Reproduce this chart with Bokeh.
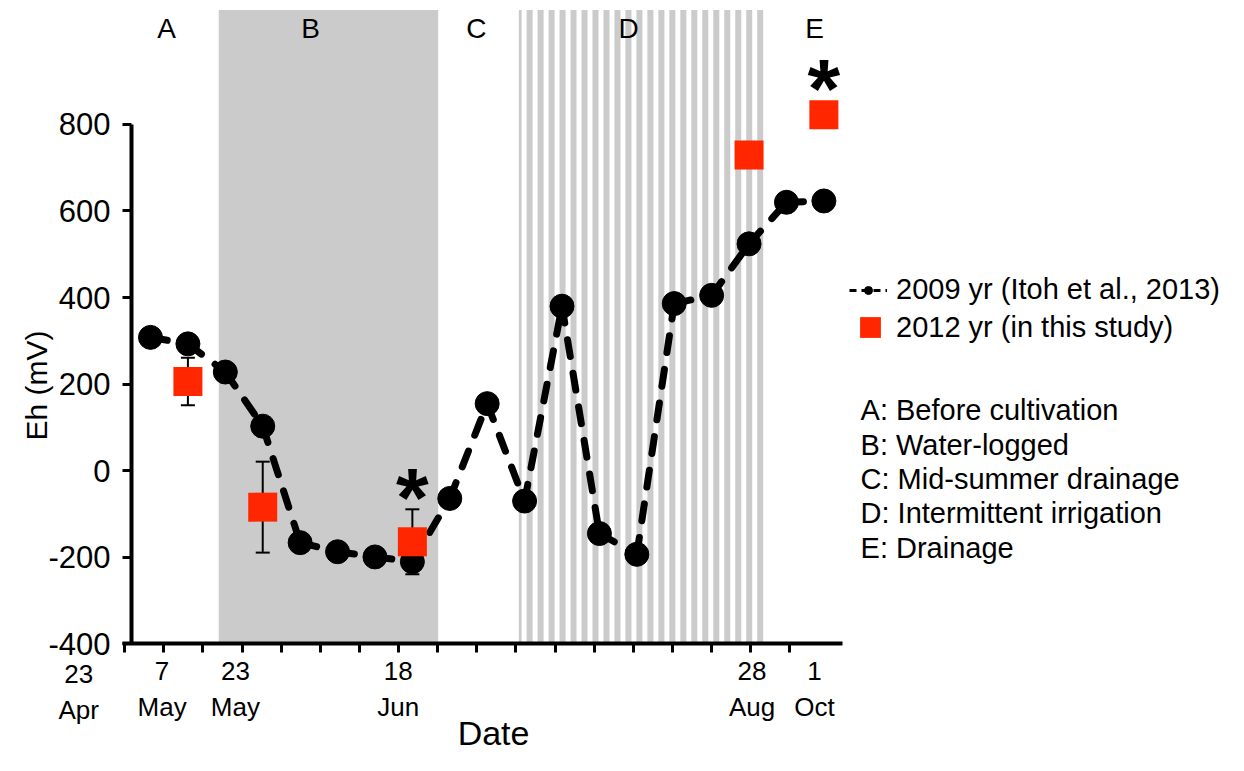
import numpy as np
from bokeh.plotting import figure
from bokeh.models import (LinearAxis, FixedTicker, BoxAnnotation, Label, Legend,
                          LegendItem, Range1d)
from bokeh.core.properties import value
from bokeh.embed import file_html
from bokeh.resources import INLINE

# ---------------- data ----------------
# 2009 series (Itoh et al., 2013): sampling number and Eh (mV)
idx_2009 = list(range(1, 20))
eh_2009 = [308, 293, 228, 103, -166, -187, -199, -210, -64, 155,
           -70, 380, -145, -193, 386, 405, 524, 620, 623]

# 2012 series (this study): sampling number, Eh (mV), error (mV)
idx_2012 = [2, 4, 8, 17, 19]
eh_2012 = [206, -84, -164, 729, 822]
err_2012 = [55, 105, 75, 0, 0]

# significance marks (sampling numbers)
star_idx = [8, 19]

# date labels on the x axis
date_pos = [1.31, 3.27, 7.62, 17.08, 18.75]
date_labels = ["7\nMay", "23\nMay", "18\nJun", "28\nAug", "1\nOct"]
first_date_pos = -0.92
first_date_label = "23\nApr"

y_ticks = [-400, -200, 0, 200, 400, 600, 800]
y_tick_labels = ["-400", "-200", "0", "200", "400", "600", "800"]

# cultivation periods
period_letters = ["A", "B", "C", "D", "E"]
period_letter_x = [1.43, 5.28, 9.71, 13.78, 18.75]
period_desc = ["A: Before cultivation", "B: Water-logged", "C: Mid-summer drainage",
               "D: Intermittent irrigation", "E: Drainage"]
waterlogged = (2.825, 8.690)
intermittent = (10.845, 17.378)

# ---------------- styling ----------------
FONT = "Liberation Sans"
GRAY = "#cbcbcb"
RED = "#ff2600"

W, H = 1228, 755
X0, X1 = -3.0096, 29.816
Y0, Y1 = -657.5, 1085.9
SHADE_TOP = 1064

p = figure(width=W, height=H, x_range=Range1d(X0, X1), y_range=Range1d(Y0, Y1),
           output_backend="svg", toolbar_location=None,
           x_axis_location=None, y_axis_location=None,
           min_border_left=0, min_border_right=0, min_border_top=0, min_border_bottom=0)
p.outline_line_color = None
p.grid.visible = False
p.background_fill_color = "white"

# x axis: tick marks as minor ticks, date labels as major ticks
tick_marks = list(np.linspace(0.31, 18.09, 18))
xaxis = LinearAxis(fixed_location=-400, bounds=(0.2515, 19.49),
                   ticker=FixedTicker(ticks=date_pos, minor_ticks=tick_marks))
xaxis.major_label_overrides = dict(zip(date_pos, date_labels))
xaxis.axis_line_width = 4
xaxis.axis_line_color = "black"
xaxis.major_tick_out = 0
xaxis.major_tick_in = 0
xaxis.minor_tick_out = 9
xaxis.minor_tick_in = 0
xaxis.minor_tick_line_width = 3
xaxis.minor_tick_line_color = "black"
xaxis.major_label_text_font = FONT
xaxis.major_label_text_font_size = "26px"
xaxis.major_label_text_color = "black"
xaxis.major_label_standoff = 3
p.add_layout(xaxis, "below")

# y axis
yaxis = LinearAxis(fixed_location=0.492, bounds=(-400, 800), ticker=FixedTicker(ticks=y_ticks))
yaxis.major_label_overrides = dict(zip(y_ticks, y_tick_labels))
yaxis.axis_line_width = 4
yaxis.major_tick_out = 9
yaxis.major_tick_in = 0
yaxis.major_tick_line_width = 3
yaxis.minor_tick_out = 0
yaxis.minor_tick_in = 0
yaxis.major_label_text_font = FONT
yaxis.major_label_text_font_size = "31px"
yaxis.major_label_text_color = "black"
yaxis.major_label_standoff = 12
p.add_layout(yaxis, "left")

# period backgrounds
p.add_layout(BoxAnnotation(left=waterlogged[0], right=waterlogged[1], bottom=-400, top=SHADE_TOP,
                           fill_color=GRAY, fill_alpha=1, line_alpha=0, level="underlay"))
stripe_period = 10.98 / 37.41
stripe_width = 6.0 / 37.41
n_stripes = int((intermittent[1] - intermittent[0]) / stripe_period) + 1
rights = intermittent[1] - stripe_period * np.arange(n_stripes)
lefts = np.maximum(rights - stripe_width, intermittent[0])
for l, r in zip(lefts, rights):
    p.add_layout(BoxAnnotation(left=float(l), right=float(r), bottom=-400, top=SHADE_TOP,
                               fill_color=GRAY, fill_alpha=1, line_alpha=0, level="underlay"))

# error bars for 2012
lo = [v - e for v, e in zip(eh_2012, err_2012)]
hi = [v + e for v, e in zip(eh_2012, err_2012)]
p.segment(x0=idx_2012, y0=lo, x1=idx_2012, y1=hi, line_color="black", line_width=2)
p.scatter(x=idx_2012 + idx_2012, y=lo + hi, marker="dash", size=14,
          line_color="black", line_width=2)

# 2009 dashed connections (each segment starts its dash at the point)
p.segment(x0=idx_2009[:-1], y0=eh_2009[:-1], x1=idx_2009[1:], y1=eh_2009[1:],
          line_color="black", line_width=7, line_dash="17 17", line_cap="round")
circles = p.scatter(x=idx_2009, y=eh_2009, size=24, marker="circle",
                    fill_color="black", line_color="black")
# legend-only line sample (no data point is drawn)
legend_line = p.line(x=np.array([np.nan]), y=np.array([np.nan]), line_color="black",
                     line_width=3, line_dash="7 5")

# 2012 squares
squares = p.scatter(x=idx_2012, y=eh_2012, marker="square", size=29,
                    fill_color=RED, line_color=None)

# significance asterisks
star_y = [eh_2012[idx_2012.index(i)] + max(err_2012[idx_2012.index(i)], 33) for i in star_idx]
p.text(x=star_idx, y=star_y, text=["*"] * len(star_idx), text_font=value(FONT),
       text_font_size="84px", text_font_style="bold", text_align="center",
       text_baseline="alphabetic", y_offset=-11, text_color="black")

# period letters on top
p.text(x=period_letter_x, y=[1021] * len(period_letters), text=period_letters,
       text_font=value(FONT), text_font_size="28px", text_align="center",
       text_baseline="middle", text_color="black")

# period descriptions
desc_y = list(140 - 79.5 * np.arange(len(period_desc)))
p.text(x=[19.98] * len(period_desc), y=desc_y, text=period_desc,
       text_font=value(FONT), text_font_size="29px", text_align="left",
       text_baseline="middle", text_color="black")

# legends
leg1 = Legend(items=[LegendItem(label="2009 yr (Itoh et al., 2013)",
                                renderers=[legend_line, circles])],
              location=(849, 449), glyph_width=38, glyph_height=20, label_standoff=9,
              padding=0, margin=0, border_line_alpha=0, background_fill_alpha=0,
              label_text_font=FONT, label_text_font_size="29px", label_text_color="black")
leg2 = Legend(items=[LegendItem(label="2012 yr (in this study)", renderers=[squares])],
              location=(844, 402), glyph_width=52, glyph_height=52, label_standoff=0,
              padding=0, margin=0, border_line_alpha=0, background_fill_alpha=0,
              label_text_font=FONT, label_text_font_size="29px", label_text_color="black")
p.add_layout(leg1)
p.add_layout(leg2)

# first date label (left of the axis start), axis titles
p.add_layout(Label(x=first_date_pos, y=-434, text=first_date_label, text_align="center",
                   text_baseline="top", text_font=FONT, text_font_size="26px",
                   text_color="black"))
p.add_layout(Label(x=10.17, y=-606, text="Date", text_align="center",
                   text_baseline="middle", text_font=FONT, text_font_size="34px",
                   text_color="black"))
p.add_layout(Label(x=-2.05, y=197, text="Eh (mV)", angle=np.pi / 2, text_align="center",
                   text_baseline="middle", text_font=FONT, text_font_size="30px",
                   text_color="black"))

open("out.html", "w").write(file_html(p, INLINE))
